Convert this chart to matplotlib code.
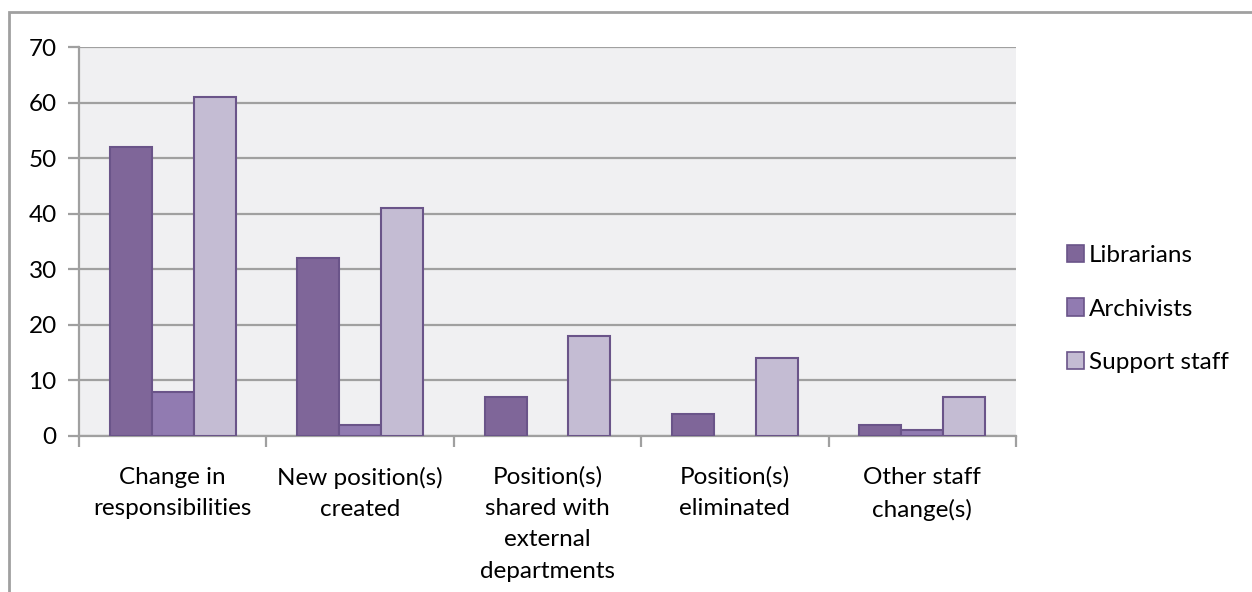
import matplotlib.pyplot as plt
import numpy as np
from matplotlib.patches import Rectangle, Patch

plt.rcParams['font.family'] = ['Lato', 'DejaVu Sans']

categories = ['Change in\nresponsibilities', 'New position(s)\ncreated',
              'Position(s)\nshared with\nexternal\ndepartments',
              'Position(s)\neliminated', 'Other staff\nchange(s)']
librarians = [52, 32, 7, 4, 2]
archivists = [8, 2, 0, 0, 1]
support_staff = [61, 41, 18, 14, 7]
series_names = ['Librarians', 'Archivists', 'Support staff']
colors = ['#7f6699', '#917bb1', '#c4bcd3']
edge = '#6a5489'
grid_col = '#a0a0a0'
fs = 17.5

fig = plt.figure(figsize=(12.52, 5.92), dpi=100)
ax = fig.add_axes([79 / 1252, 1 - 436 / 592, (1016 - 79) / 1252, (436 - 47) / 592])
ax.set_facecolor('#f0f0f2')

x = np.arange(len(categories))
w = 0.224
for i, (vals, c) in enumerate(zip([librarians, archivists, support_staff], colors)):
    lw = [1.5 if v > 0 else 0 for v in vals]
    ax.bar(x + (i - 1) * w, vals, w, color=c, edgecolor=edge, linewidth=lw, zorder=3)

ax.set_xlim(-0.5, len(categories) - 0.5)
ax.set_ylim(0, 70)
ax.set_yticks(range(0, 71, 10))
ax.yaxis.grid(True, color=grid_col, linewidth=1.6, zorder=0)
ax.set_axisbelow(True)
ax.set_xticks(np.arange(-0.5, len(categories), 1))
ax.set_xticklabels([])
ax.set_xticks(x, minor=True)
ax.set_xticklabels(categories, minor=True, fontsize=fs, linespacing=1.6, va='top')
ax.tick_params(axis='x', which='minor', length=0, pad=22)
ax.tick_params(axis='x', which='major', length=8, width=1.6, color=grid_col)
ax.tick_params(axis='y', length=8, width=1.6, color=grid_col, labelsize=fs, pad=8)
for s in ['top', 'right']:
    ax.spines[s].set_visible(False)
for s in ['left', 'bottom']:
    ax.spines[s].set_color(grid_col)
    ax.spines[s].set_linewidth(1.6)

handles = [Patch(facecolor=c, edgecolor=edge, linewidth=1.2) for c in colors]
fig.legend(handles, series_names, loc='center left', bbox_to_anchor=(1045 / 1252, 1 - 309 / 592),
           frameon=False, fontsize=fs, handlelength=0.7, handleheight=0.7,
           handletextpad=0.2, labelspacing=1.35)

fig.patches.append(Rectangle((9 / 1252, -0.1), 2, 1.1 - 12 / 592, transform=fig.transFigure,
                             fill=False, edgecolor=grid_col, linewidth=2, clip_on=False))

fig.savefig('out.png', dpi=100)
